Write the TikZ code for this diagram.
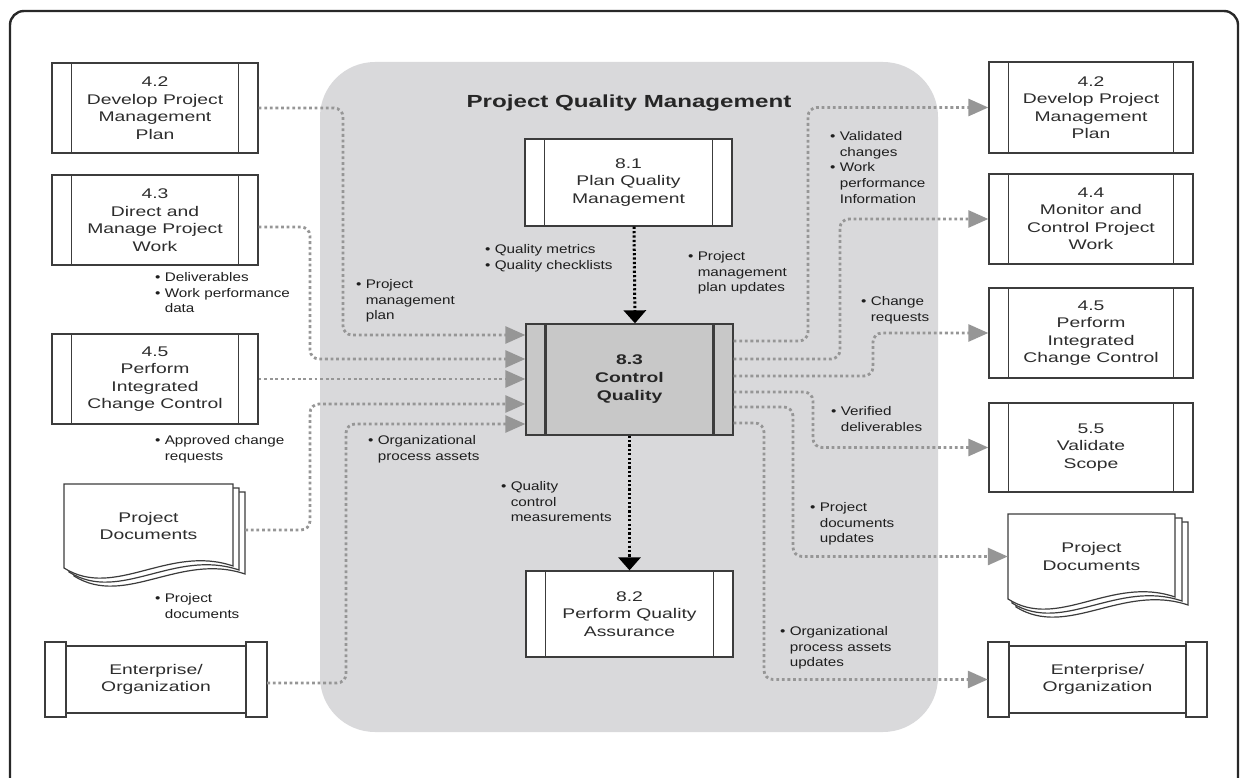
\documentclass[tikz,border=0pt]{standalone}
\usepackage{fontspec}
\setmainfont{Liberation Sans}
\newfontfamily\boxfont[FakeStretch=1.38]{Liberation Sans}
\newfontfamily\lblfont[FakeStretch=1.22]{Liberation Sans}
\usetikzlibrary{arrows.meta}

\definecolor{frame}{RGB}{40,40,40}
\definecolor{panel}{RGB}{217,217,219}
\definecolor{boxline}{RGB}{60,60,60}
\definecolor{boxtext}{RGB}{45,45,45}
\definecolor{ctrlfill}{RGB}{200,200,200}
\definecolor{conngray}{RGB}{150,150,150}
\definecolor{lbltext}{RGB}{30,30,30}

% bullet items for the flow labels
\newcommand\itm[1]{\textbullet\ #1}
\newcommand\cont[1]{\hphantom{\textbullet\ }#1}

% one sheet of a stacked document: top-left corner, width, height
\newcommand\docpage[4]{%
  \draw[draw=boxline,line width=1.2pt,fill=white]
    (#1,#2) -- ({#1+#3},#2) -- ({#1+#3},{#2+#4-2})
    .. controls ({#1+0.62*#3},{#2+#4-24}) and ({#1+0.30*#3},{#2+#4+32}) ..
    (#1,{#2+#4}) -- cycle;}

% enterprise scroll: outer left, top, right, bottom
\newcommand\entshape[4]{%
  \draw[draw=boxline,line width=1.3pt,fill=white]
    ({#1+21},{#2+4}) rectangle ({#3-21},{#4-4});
  \draw[draw=boxline,line width=1.3pt,fill=white]
    (#1,#2) rectangle ({#1+21},#4);
  \draw[draw=boxline,line width=1.3pt,fill=white]
    ({#3-21},#2) rectangle (#3,#4);}

\tikzset{
  boxfnt/.style={font=\boxfont\fontsize{14}{17.5}\selectfont, text=boxtext},
  procbars/.style={path picture={
    \draw[draw=boxline,line width=#1]
      ([xshift=19.5pt]path picture bounding box.north west) --
      ([xshift=19.5pt]path picture bounding box.south west);
    \draw[draw=boxline,line width=#1]
      ([xshift=-19.5pt]path picture bounding box.north east) --
      ([xshift=-19.5pt]path picture bounding box.south east);}},
  procbars/.default=1.3pt,
  procbox/.style={draw=boxline, line width=1.3pt, fill=white,
    minimum width=206pt, minimum height=90pt, inner sep=0pt,
    align=center, boxfnt, procbars},
  plain/.style={inner sep=0pt, align=center, boxfnt},
  lbl/.style={anchor=north west, inner sep=0pt, align=left,
    font=\lblfont\fontsize{12.5}{15.8}\selectfont, text=lbltext},
  conn/.style={draw=conngray, line width=2.8pt,
    dash pattern=on 2.8pt off 2.8pt, rounded corners=9pt,
    -{Triangle[length=20pt,width=17pt]}},
  blackarr/.style={draw=black, line width=3pt,
    dash pattern=on 2.2pt off 2.2pt,
    -{Triangle[length=13pt,width=22pt]}},
}

\begin{document}
\begin{tikzpicture}[x=1pt,y=-1pt]
\useasboundingbox (0,0) rectangle (1248,778);

% outer frame
\draw[draw=frame, line width=2.4pt, rounded corners=14pt]
  (10,790) -- (10,11) -- (1238,11) -- (1238,790);

% knowledge area panel
\fill[panel, rounded corners=55pt] (320,62) rectangle (938,732);
\node[font=\boxfont\bfseries\fontsize{17.5}{20}\selectfont, text=black!85]
  (title) at (629,103) {Project Quality Management};

% left-hand sources
\node[procbox] (n42L) at (155,108) {4.2\\Develop Project\\Management\\Plan};
\node[procbox] (n43L) at (155,220) {4.3\\Direct and\\Manage Project\\Work};
\node[procbox] (n45L) at (155,379) {4.5\\Perform\\Integrated\\Change Control};

\docpage{74}{492}{171}{84}
\docpage{69}{488}{170}{84}
\docpage{64}{484}{169}{84}
\node[plain, minimum width=169pt, minimum height=84pt] (docL) at (148.5,526)
  {Project\\Documents};

\entshape{45}{642}{267}{717}
\node[plain, minimum width=222pt, minimum height=75pt] (entL) at (156,679.5)
  {Enterprise/\\Organization};

% quality processes
\node[procbox, minimum width=207pt, minimum height=87pt] (n81) at (628.5,182.5)
  {8.1\\Plan Quality\\Management};
\node[procbox, minimum width=207pt, minimum height=111pt, fill=ctrlfill,
  procbars=2.6pt, font=\boxfont\bfseries\fontsize{14}{18}\selectfont, text=black!85]
  (n83) at (629.5,379.5) {8.3\\Control\\Quality};
\node[procbox, minimum width=207pt, minimum height=86pt] (n82) at (629.5,614)
  {8.2\\Perform Quality\\Assurance};

% right-hand targets
\node[procbox, minimum width=204pt, minimum height=91pt] (n42R) at (1091,107.5)
  {4.2\\Develop Project\\Management\\Plan};
\node[procbox, minimum width=204pt] (n44R) at (1091,219)
  {4.4\\Monitor and\\Control Project\\Work};
\node[procbox, minimum width=204pt] (n45R) at (1091,333)
  {4.5\\Perform\\Integrated\\Change Control};
\node[procbox, minimum width=204pt, minimum height=89pt] (n55R) at (1091,447.5)
  {5.5\\Validate\\Scope};

\docpage{1016}{522}{172}{85}
\docpage{1012}{518}{170}{85}
\docpage{1008}{514}{167}{85}
\node[plain, minimum width=167pt, minimum height=85pt] (docR) at (1091.5,556.5)
  {Project\\Documents};

\entshape{988}{642}{1207}{717}
\node[plain, minimum width=219pt, minimum height=75pt] (entR) at (1097.5,679.5)
  {Enterprise/\\Organization};

% inputs
\draw[conn] (n42L.east) -- (343,108) -- (343,335) -- ([yshift=44.5pt]n83.west);
\draw[conn] ([yshift=-7pt]n43L.east) -- (310,227) -- (310,359) -- ([yshift=20.5pt]n83.west);
\draw[conn] (n45L.east) -- (n45L.east -| n83.west);
\draw[conn] ([xshift=12pt,yshift=-4pt]docL.east) -- (310,530) -- (310,404) -- ([yshift=-24.5pt]n83.west);
\draw[conn] ([yshift=-3.5pt]entL.east) -- (346,683) -- (346,424) -- ([yshift=-44.5pt]n83.west);

% outputs
\draw[conn] ([yshift=38.5pt]n83.east) -- (808,341) -- (808,107.5) -- (n42R.west);
\draw[conn] ([yshift=20.5pt]n83.east) -- (840,359) -- (840,219) -- (n44R.west);
\draw[conn] ([yshift=3.5pt]n83.east) -- (873,376) -- (873,333) -- (n45R.west);
\draw[conn] ([yshift=-12.5pt]n83.east) -- (813,392) -- (813,447.5) -- (n55R.west);
\draw[conn] ([yshift=-27.5pt]n83.east) -- (793,407) -- (793,556.5) -- (docR.west);
\draw[conn] ([yshift=-43.5pt]n83.east) -- (764,423) -- (764,679.5) -- (entR.west);

% flows between quality processes
\draw[blackarr] ([xshift=5.5pt]n81.south) -- ([xshift=5.5pt]n83.north);
\draw[blackarr] (n83.south) -- (n82.north);

% flow labels
\node[lbl] (lDeliv) at (155,272)
  {\itm{Deliverables}\\\itm{Work performance}\\\cont{data}};
\node[lbl] (lPmp) at (356,279)
  {\itm{Project}\\\cont{management}\\\cont{plan}};
\node[lbl] (lAcr) at (155,435)
  {\itm{Approved change}\\\cont{requests}};
\node[lbl] (lPd) at (155,593)
  {\itm{Project}\\\cont{documents}};
\node[lbl] (lOpa) at (368,435)
  {\itm{Organizational}\\\cont{process assets}};
\node[lbl] (lQm) at (485,244)
  {\itm{Quality metrics}\\\itm{Quality checklists}};
\node[lbl] (lPmpu) at (688,251)
  {\itm{Project}\\\cont{management}\\\cont{plan updates}};
\node[lbl] (lQcm) at (501,481)
  {\itm{Quality}\\\cont{control}\\\cont{measurements}};
\node[lbl] (lVc) at (830,131)
  {\itm{Validated}\\\cont{changes}\\\itm{Work}\\\cont{performance}\\\cont{Information}};
\node[lbl] (lCr) at (861,296)
  {\itm{Change}\\\cont{requests}};
\node[lbl] (lVd) at (831,406)
  {\itm{Verified}\\\cont{deliverables}};
\node[lbl] (lPdu) at (810,502)
  {\itm{Project}\\\cont{documents}\\\cont{updates}};
\node[lbl] (lOpau) at (780,626)
  {\itm{Organizational}\\\cont{process assets}\\\cont{updates}};
\end{tikzpicture}
\end{document}
